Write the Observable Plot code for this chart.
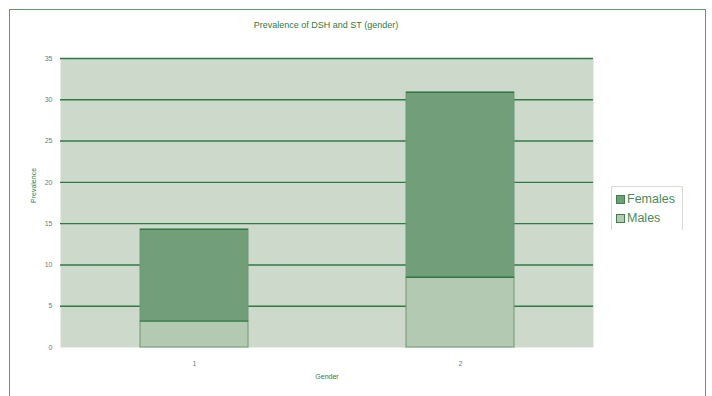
<!DOCTYPE html>
<html><head><meta charset="utf-8">
<script src="https://cdn.jsdelivr.net/npm/d3@7"></script>
<script src="https://cdn.jsdelivr.net/npm/@observablehq/plot@0.6"></script>
<style>
body{margin:0;background:#fff;font-family:"Liberation Sans",Arial,sans-serif;}
#wrap{position:relative;width:712px;height:396px;overflow:hidden;}
#frame{position:absolute;left:9px;top:9px;width:697px;height:400px;border:1px solid #5e9a6c;box-sizing:border-box;}
#title{position:absolute;left:0;width:652px;top:20px;text-align:center;font-size:9px;color:#2f7a3f;}
#legend{position:absolute;left:611px;top:186px;width:72px;height:44px;border:1px solid #d4dcd4;border-bottom:none;box-sizing:border-box;font-size:12.5px;color:#4a8a58;}
#legend div{position:absolute;left:4px;display:flex;align-items:center;}
#legend span.sw{display:inline-block;width:7px;height:7px;border:1px solid #3f7f4c;margin-right:2px;}
#chart{position:absolute;left:0;top:0;}
</style></head>
<body><div id="wrap"><div id="frame"></div><div id="chart"></div>
<div id="title">Prevalence of DSH and ST (gender)</div>
<div id="legend"></div></div>
<script>
const categories = ["1", "2"];
const males = [3.2, 8.5];
const females = [11.1, 22.4];
const seriesNames = ["Males", "Females"];
const yTicks = [0, 5, 10, 15, 20, 25, 30, 35];
const colors = {Males: "#b3c9b1", Females: "#729e79"};

const data = [];
categories.forEach((c, i) => {
  data.push({gender: c, series: "Males", value: males[i]});
  data.push({gender: c, series: "Females", value: females[i]});
});

const plot = Plot.plot({
  width: 712, height: 396,
  marginLeft: 60, marginRight: 119, marginTop: 58, marginBottom: 49,
  style: {fontFamily: "Liberation Sans, Arial, sans-serif", fontSize: "7px", color: "#3d6e47", background: "transparent"},
  x: {domain: categories, paddingInner: 0.595, paddingOuter: 0.2975, label: null},
  y: {domain: [0, 35], ticks: yTicks, label: null},
  color: {domain: seriesNames, range: [colors.Males, colors.Females]},
  marks: [
    Plot.frame({fill: "#cddacb", stroke: null}),
    Plot.ruleY(yTicks.filter(d => d > 0), {stroke: "#2f7a43", strokeWidth: 1.4}),
    Plot.barY(data, {x: "gender", y: "value", z: "series", fill: "series", order: seriesNames, stroke: "#6d9a74", strokeWidth: 1}),
    Plot.tickY(data, Plot.stackY2({x: "gender", y: "value", z: "series", order: seriesNames, stroke: "#2f7a43", strokeWidth: 1.4})),
    Plot.axisY({ticks: yTicks, tickSize: 0, tickPadding: 8, label: null, fill: "#6b7d6e"}),
    Plot.axisX({tickSize: 0, tickPadding: 14, label: null, fill: "#6b7d6e"}),
    Plot.text(["Gender"], {frameAnchor: "bottom", dy: 31, fill: "#2f7a3f", fontSize: 7}),
    Plot.text(["Prevalence"], {frameAnchor: "left", dx: -27, rotate: -90, fill: "#2f7a3f", fontSize: 7})
  ]
});
document.getElementById("chart").appendChild(plot);

const leg = document.getElementById("legend");
[["Females", 5], ["Males", 24]].forEach(([name, top]) => {
  const d = document.createElement("div");
  d.style.top = top + "px";
  d.innerHTML = `<span class="sw" style="background:${colors[name]}"></span>${name}`;
  leg.appendChild(d);
});
</script></body></html>
